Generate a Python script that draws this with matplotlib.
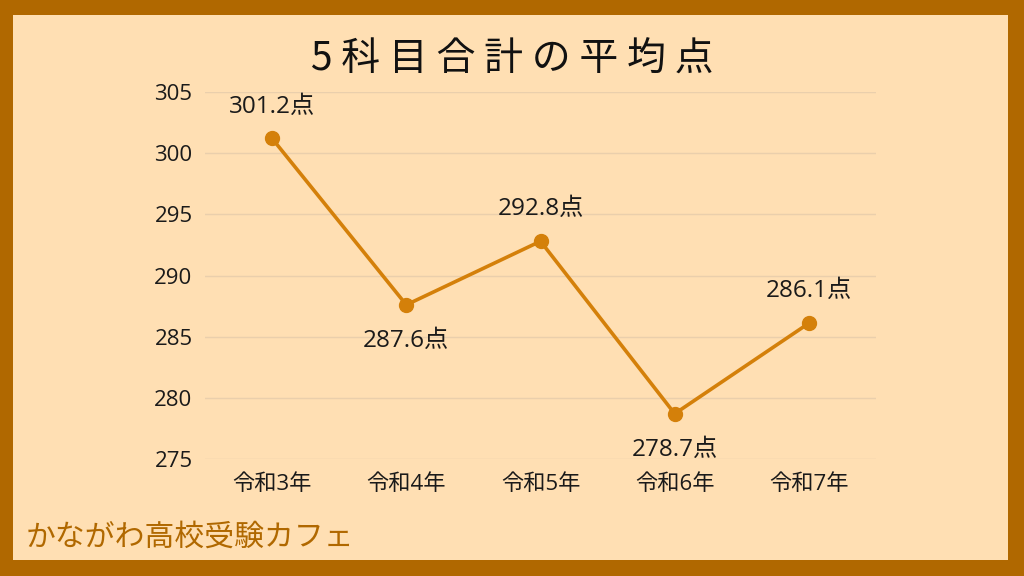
import matplotlib.pyplot as plt
from matplotlib.patches import Rectangle

plt.rcParams['font.family'] = ['Open Sans', 'Noto Sans CJK JP', 'DejaVu Sans']

# data
years = ['令和3年', '令和4年', '令和5年', '令和6年', '令和7年']
scores = [301.2, 287.6, 292.8, 278.7, 286.1]
label_pos = ['above', 'below', 'above', 'below', 'above']
yticks = [275, 280, 285, 290, 295, 300, 305]

border = '#B06800'
bg = '#FFDFB3'
line_color = '#D4800A'

fig = plt.figure(figsize=(10.24, 5.76), dpi=100)
fig.patch.set_facecolor(border)
fig.patches.append(Rectangle((13 / 1024, 16 / 576), (1008 - 13) / 1024, (561 - 16) / 576,
                             transform=fig.transFigure, facecolor=bg, edgecolor='none', zorder=-1))

ax = fig.add_axes([205 / 1024, 1 - 459 / 576, 671 / 1024, (459 - 92) / 576])
ax.set_facecolor('none')

x = range(len(years))
ax.plot(x, scores, color=line_color, linewidth=2.6, marker='o', markersize=10, zorder=3)

for i, (v, p) in enumerate(zip(scores, label_pos)):
    dy = 23 if p == 'above' else -26
    ax.annotate(f'{v}点', (i, v), xytext=(0, dy), textcoords='offset points',
                ha='center', va='center', fontsize=17.5, color='#1a1a1a')

ax.set_xlim(-0.5, len(years) - 0.5)
ax.set_ylim(275, 305)
ax.set_yticks(yticks)
ax.set_xticks(list(x))
ax.set_xticklabels(years)
ax.tick_params(axis='both', length=0, labelsize=16, colors='#1a1a1a')
ax.tick_params(axis='y', pad=9)
ax.tick_params(axis='x', pad=11)
ax.grid(axis='y', color='#EACFAC', linewidth=1)
ax.set_axisbelow(True)
for s in ax.spines.values():
    s.set_visible(False)

fig.text(0.5, 1 - 60 / 576, '5 科 目 合 計 の 平 均 点', ha='center', va='center',
         fontsize=28, color='#111111', family=['Noto Sans CJK JP'])
fig.text(26 / 1024, 1 - 537 / 576, 'かながわ高校受験カフェ', ha='left', va='center',
         fontsize=21.5, color=border, family=['Noto Sans CJK JP'])

fig.savefig('out.png', dpi=100, facecolor=fig.get_facecolor())
